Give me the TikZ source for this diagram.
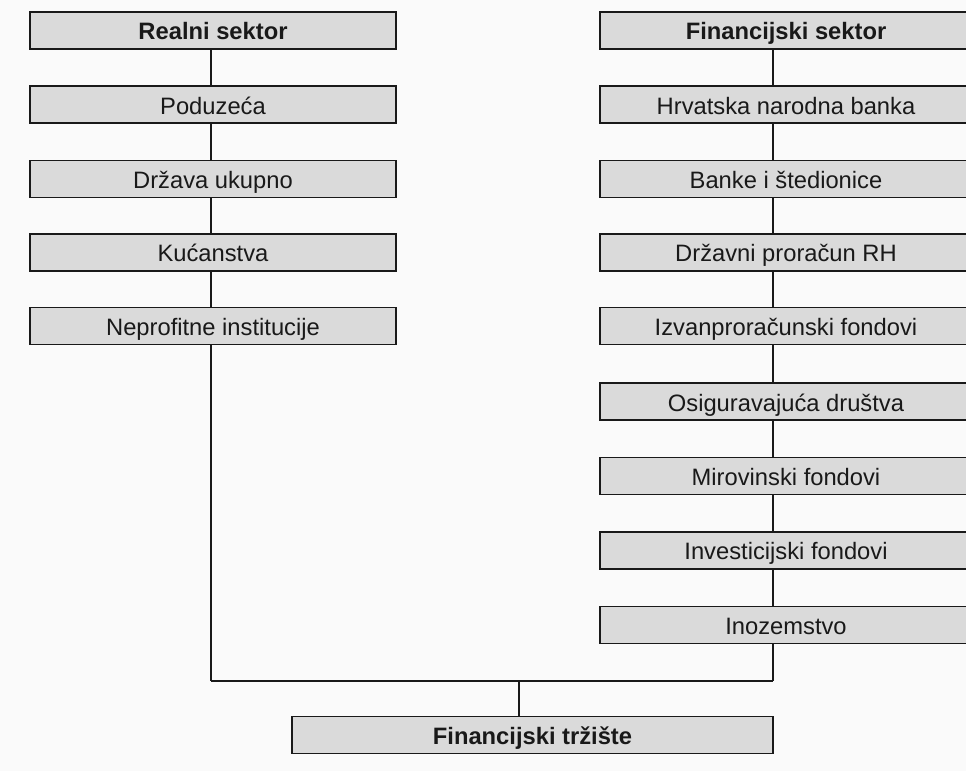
\documentclass[tikz,border=0pt]{standalone}
\usepackage{fontspec}
\setmainfont{Liberation Sans}
\definecolor{boxfill}{RGB}{218,218,218}
\definecolor{paper}{RGB}{250,250,250}
\definecolor{ink}{RGB}{25,25,25}
\begin{document}
\begin{tikzpicture}[x=0.75pt,y=-0.75pt,
  sbox/.style={draw=ink,line width=1.3pt,fill=boxfill,rectangle,inner sep=0pt,
    minimum height=37*0.75pt,text height=14.2pt,text depth=0pt,
    font=\fontsize{17.8pt}{20pt}\selectfont,text=ink},
  lbox/.style={sbox,minimum width=366*0.75pt},
  rbox/.style={sbox,minimum width=372*0.75pt},
  hdr/.style={font=\fontsize{17.8pt}{20pt}\selectfont\bfseries},
  link/.style={draw=ink,line width=1.1pt}]
\clip (0,0) rectangle (966,771);
\fill[paper] (0,0) rectangle (966,771);
% left column
\node[lbox,hdr] (L0) at (213,30.5) {Realni sektor};
\node[lbox] (L1) at (213,104.75) {Poduzeća};
\node[lbox] (L2) at (213,179) {Država ukupno};
\node[lbox] (L3) at (213,252.25) {Kućanstva};
\node[lbox] (L4) at (213,326) {Neprofitne institucije};
% right column
\node[rbox,hdr] (R0) at (786,30.5) {Financijski sektor};
\node[rbox] (R1) at (786,104.75) {Hrvatska narodna banka};
\node[rbox] (R2) at (786,179) {Banke i štedionice};
\node[rbox] (R3) at (786,252.25) {Državni proračun RH};
\node[rbox] (R4) at (786,326) {Izvanproračunski fondovi};
\node[rbox] (R5) at (786,401.75) {Osiguravajuća društva};
\node[rbox] (R6) at (786,476) {Mirovinski fondovi};
\node[rbox] (R7) at (786,550.5) {Investicijski fondovi};
\node[rbox] (R8) at (786,625) {Inozemstvo};
% bottom
\node[sbox,hdr,minimum width=481*0.75pt] (B) at (532.5,735) {Financijski tržište};
% junction coordinates
\coordinate (jl) at (211,681);
\coordinate (jr) at (773,681);
\coordinate (jm) at (519,681);
% left links
\foreach \a/\b in {L0/L1,L1/L2,L2/L3,L3/L4}
  \draw[link] (\a.south -| jl) -- (\b.north -| jl);
\draw[link] (L4.south -| jl) -- (jl);
% right links
\foreach \a/\b in {R0/R1,R1/R2,R2/R3,R3/R4,R4/R5,R5/R6,R6/R7,R7/R8}
  \draw[link] (\a.south -| jr) -- (\b.north -| jr);
\draw[link] (R8.south -| jr) -- (jr);
% bottom
\draw[link] (jl) -- (jr);
\draw[link] (jm) -- (jm |- B.north);
\end{tikzpicture}
\end{document}
